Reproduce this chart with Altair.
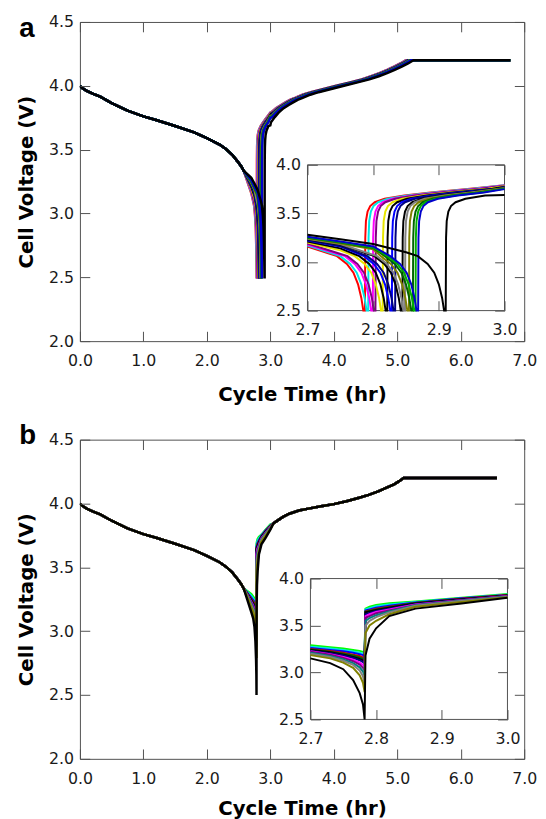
import altair as alt
import pandas as pd

# ---------------- shared discharge path of the main panels (hr, V) ----------------
DIS_T = [0.00, 0.03, 0.10, 0.20, 0.32, 0.50, 0.75, 1.00, 1.20, 1.50, 1.80, 2.00, 2.20, 2.30, 2.40, 2.48, 2.54, 2.58]
DIS_V = [4.000, 3.985, 3.962, 3.938, 3.915, 3.865, 3.805, 3.760, 3.732, 3.685, 3.635, 3.590, 3.540, 3.505, 3.460, 3.410, 3.370, 3.335]
HOLD_V = 4.2

# ---------------- panel a : cycles cut off at 2.5 V ----------------
A_COLORS = ["#ff0000", "#00e5e5", "#ff00ff", "#800080", "#e6e600", "#000000", "#0000ff", "#000080",
            "#000000", "#808080", "#808000", "#006400", "#00b000", "#0000cc", "#000000"]
A_CUTOFF = [2.785, 2.790, 2.797, 2.801, 2.812, 2.819, 2.826, 2.831, 2.842, 2.846, 2.852, 2.858, 2.862, 2.866, 2.908]
A_FAN_T = [2.70, 2.75, 2.80, 2.85]
A_FAN_V = [
    [3.16, None, None, None],
    [3.17, None, None, None],
    [3.18, None, None, None],
    [3.19, None, None, None],
    [3.20, 3.12, None, None],
    [3.21, 3.14, None, None],
    [3.22, 3.16, None, None],
    [3.225, 3.165, None, None],
    [3.235, 3.18, None, None],
    [3.24, 3.185, None, None],
    [3.245, 3.19, 3.13, None],
    [3.25, 3.20, 3.145, None],
    [3.255, 3.205, 3.15, None],
    [3.26, 3.21, 3.16, None],
    [3.28, 3.235, 3.185, 3.10],
]
A_TAIL_DT = [-0.04, -0.025, -0.015, -0.008, -0.003, 0.0]
A_TAIL_V = [3.06, 2.98, 2.89, 2.77, 2.63, 2.50]
A_CHG_DELAY = 0.0025
A_CHG_DT = [0.0, 0.0005, 0.0015, 0.004, 0.008, 0.015, 0.03, 0.06, 0.10, 0.16, 0.22, 0.30, 0.38, 0.45,
            0.52, 0.60, 0.72, 0.85, 1.05, 1.25, 1.45, 1.65, 1.80, 1.93, 2.05, 2.16, 2.26, 2.345]
A_CHG_V = [2.50, 3.25, 3.42, 3.52, 3.575, 3.615, 3.65, 3.685, 3.715, 3.755, 3.79, 3.825, 3.85, 3.87,
           3.89, 3.905, 3.93, 3.95, 3.975, 4.00, 4.025, 4.05, 4.075, 4.10, 4.125, 4.15, 4.175, 4.20]
A_V_AT_3 = [3.79, 3.79, 3.788, 3.785, 3.78, 3.775, 3.77, 3.77, 3.765, 3.76, 3.76, 3.755, 3.755, 3.75, 3.69]
A_HOLD_END = 6.78

# ---------------- panel b : cycles cut off at a fixed time ----------------
B_COLORS = ["#00ff00", "#00e5e5", "#0000ff", "#cc0000", "#006400", "#000000", "#000080",
            "#ff00ff", "#800080", "#008080", "#808080", "#808000", "#000000"]
B_TAIL_T = [2.70, 2.73, 2.75, 2.765, 2.775, 2.78, 2.7825]
B_TAIL_V = [
    [3.29, 3.27, 3.255, 3.24, 3.23, 3.22, 3.21],
    [3.275, 3.255, 3.24, 3.225, 3.21, 3.20, 3.195],
    [3.26, 3.24, 3.225, 3.21, 3.195, 3.185, 3.175],
    [3.25, 3.23, 3.21, 3.19, 3.175, 3.16, 3.15],
    [3.245, 3.22, 3.20, 3.18, 3.16, 3.145, 3.135],
    [3.24, 3.215, 3.19, 3.165, 3.145, 3.13, 3.115],
    [3.23, 3.205, 3.18, 3.155, 3.13, 3.11, 3.095],
    [3.225, 3.195, 3.165, 3.135, 3.105, 3.08, 3.06],
    [3.22, 3.19, 3.155, 3.12, 3.085, 3.05, 3.02],
    [3.21, 3.175, 3.14, 3.10, 3.055, 3.01, 2.96],
    [3.20, 3.165, 3.125, 3.08, 3.02, 2.96, 2.88],
    [3.185, 3.15, 3.105, 3.05, 2.97, 2.89, 2.79],
    [3.15, 3.10, 3.035, 2.92, 2.78, 2.66, 2.50],
]
B_CHG_T = [2.7838, 2.79, 2.80, 2.82, 2.86, 2.93, 3.00]
B_CHG_V = [
    [3.68, 3.70, 3.72, 3.738, 3.755, 3.795, 3.835],
    [3.67, 3.685, 3.705, 3.725, 3.75, 3.79, 3.83],
    [3.66, 3.67, 3.69, 3.71, 3.745, 3.79, 3.825],
    [3.65, 3.66, 3.68, 3.70, 3.74, 3.785, 3.825],
    [3.645, 3.655, 3.67, 3.695, 3.74, 3.78, 3.82],
    [3.64, 3.65, 3.665, 3.69, 3.735, 3.78, 3.82],
    [3.62, 3.635, 3.655, 3.68, 3.73, 3.775, 3.815],
    [3.60, 3.62, 3.645, 3.67, 3.725, 3.77, 3.815],
    [3.58, 3.60, 3.63, 3.66, 3.72, 3.77, 3.81],
    [3.55, 3.58, 3.61, 3.65, 3.715, 3.765, 3.81],
    [3.50, 3.55, 3.59, 3.64, 3.71, 3.76, 3.805],
    [3.42, 3.50, 3.55, 3.62, 3.70, 3.75, 3.80],
    [3.18, 3.36, 3.47, 3.60, 3.68, 3.735, 3.795],
]
B_MAIN_T = [3.05, 3.10, 3.20, 3.30, 3.45, 3.60, 3.80, 4.00, 4.20, 4.40, 4.55, 4.70, 4.85, 4.95, 5.03, 5.10, 6.57]
B_MAIN_V = [3.845, 3.862, 3.895, 3.92, 3.945, 3.96, 3.978, 3.995, 4.018, 4.045, 4.068, 4.095, 4.128,
            4.15, 4.175, 4.20, 4.20]

# ---------------- axes ----------------
X_TICKS = [0.0, 1.0, 2.0, 3.0, 4.0, 5.0, 6.0, 7.0]
Y_TICKS = [2.0, 2.5, 3.0, 3.5, 4.0, 4.5]
IX_TICKS = [2.7, 2.8, 2.9, 3.0]
IY_TICKS = [2.5, 3.0, 3.5, 4.0]

FONT = "DejaVu Sans"
LETTER_FONT = "Liberation Sans"
AXC = "#505050"
LBL = "#1a1a1a"
W, H = 451, 324
TICK = 10


def rows_a():
    out = []
    for i, col in enumerate(A_COLORS):
        te = A_CUTOFF[i]
        pts = list(zip(DIS_T, DIS_V))
        pts += [(t, v) for t, v in zip(A_FAN_T, A_FAN_V[i]) if v is not None]
        pts += [(te + dt, v) for dt, v in zip(A_TAIL_DT, A_TAIL_V)]
        ts = te + A_CHG_DELAY
        chg = [(ts + dt, v) for dt, v in zip(A_CHG_DT, A_CHG_V)]
        chg = [p for p in chg if abs(p[0] - 3.0) > 0.004] + [(3.0, A_V_AT_3[i])]
        chg.sort()
        pts += chg + [(A_HOLD_END, HOLD_V)]
        for k, (t, v) in enumerate(pts):
            out.append({"id": f"a{i}", "col": col, "t": round(t, 5), "v": v, "k": k})
    return pd.DataFrame(out)


def rows_b():
    out = []
    for i, col in enumerate(B_COLORS):
        pts = list(zip(DIS_T, DIS_V))
        pts += list(zip(B_TAIL_T, B_TAIL_V[i]))
        pts += list(zip(B_CHG_T, B_CHG_V[i]))
        pts += list(zip(B_MAIN_T, B_MAIN_V))
        for k, (t, v) in enumerate(pts):
            out.append({"id": f"b{i}", "col": col, "t": t, "v": v, "k": k})
    return pd.DataFrame(out)


def tick_axis(orient, values, offset, **kw):
    return alt.Axis(orient=orient, values=values, offset=offset, tickSize=TICK, tickColor=AXC,
                    tickWidth=1, labels=False, domain=False, grid=False, zindex=1, **kw)


def panel(df, letter, letter_y, xtitle_pad, ix0, ix1, iyt, iyb):
    xs = alt.Scale(domain=[X_TICKS[0], X_TICKS[-1]], nice=False, zero=False)
    ys = alt.Scale(domain=[Y_TICKS[0], Y_TICKS[-1]], nice=False, zero=False)
    main_box = pd.DataFrame({"x0": [X_TICKS[0]], "x1": [X_TICKS[-1]], "y0": [Y_TICKS[0]], "y1": [Y_TICKS[-1]]})

    lines = alt.Chart(df).mark_line(strokeWidth=2.5, clip=True).encode(
        x=alt.X("t:Q", scale=xs, axis=alt.Axis(
            orient="bottom", values=X_TICKS, format=".1f", ticks=False, domain=False, grid=False,
            labelPadding=12, labelFlush=False, labelOverlap=False,
            title="Cycle Time (hr)", titlePadding=xtitle_pad)),
        y=alt.Y("v:Q", scale=ys, axis=alt.Axis(
            orient="left", values=Y_TICKS, format=".1f", ticks=False, domain=False, grid=False,
            labelPadding=6.5, labelFlush=False, labelOverlap=False,
            title="Cell Voltage (V)", titlePadding=12)),
        color=alt.Color("col:N", scale=None),
        detail="id:N",
        order=alt.Order("k:Q"),
    )
    mt1 = alt.Chart(main_box).mark_rect(opacity=0).encode(
        x=alt.X("x0:Q", scale=xs, axis=tick_axis("bottom", X_TICKS, -TICK, title=None)), x2="x1:Q",
        y=alt.Y("y0:Q", scale=ys, axis=tick_axis("left", Y_TICKS, -TICK, title=None)), y2="y1:Q")
    mt2 = alt.Chart(main_box).mark_rect(opacity=0).encode(
        x=alt.X("x0:Q", scale=xs, axis=tick_axis(
            "top", X_TICKS, -TICK, title=letter, titleX=-62, titleY=letter_y - TICK,
            titleAlign="left", titleBaseline="alphabetic", titleAngle=0,
            titleFont=LETTER_FONT, titleFontSize=28, titleFontWeight="bold", titleColor="black")),
        x2="x1:Q",
        y=alt.Y("y0:Q", scale=ys, axis=tick_axis("right", Y_TICKS, -TICK, title=None)), y2="y1:Q")

    ixs = alt.Scale(domain=[IX_TICKS[0], IX_TICKS[-1]], range=[ix0, ix1], nice=False, zero=False)
    iys = alt.Scale(domain=[IY_TICKS[0], IY_TICKS[-1]], range=[iyb, iyt], nice=False, zero=False)
    ibox = pd.DataFrame({"x0": [IX_TICKS[0]], "x1": [IX_TICKS[-1]], "y0": [IY_TICKS[0]], "y1": [IY_TICKS[-1]]})

    frame = alt.Chart(ibox).mark_rect(fill="white", stroke=AXC, strokeWidth=1).encode(
        x=alt.X("x0:Q", scale=ixs, axis=alt.Axis(
            orient="bottom", values=IX_TICKS, format=".1f", offset=iyb - H, ticks=False,
            domain=False, grid=False, labelPadding=11.5, labelFlush=False, labelOverlap=False,
            title=None, zindex=1)),
        x2="x1:Q",
        y=alt.Y("y0:Q", scale=iys, axis=alt.Axis(
            orient="left", values=IY_TICKS, format=".1f", offset=-ix0, ticks=False,
            domain=False, grid=False, labelPadding=7, labelFlush=False, labelOverlap=False,
            title=None, zindex=1)),
        y2="y1:Q")
    ilines = alt.Chart(df).transform_filter(
        "datum.t >= 2.7 && datum.t <= 3.0").mark_line(strokeWidth=2).encode(
        x=alt.X("t:Q", scale=ixs, axis=None),
        y=alt.Y("v:Q", scale=iys, axis=None),
        color=alt.Color("col:N", scale=None),
        detail="id:N",
        order=alt.Order("k:Q"),
    )
    it1 = alt.Chart(ibox).mark_rect(opacity=0).encode(
        x=alt.X("x0:Q", scale=ixs, axis=tick_axis("bottom", IX_TICKS, iyb - TICK - H, title=None)), x2="x1:Q",
        y=alt.Y("y0:Q", scale=iys, axis=tick_axis("left", IY_TICKS, -(ix0 + TICK), title=None)), y2="y1:Q")
    it2 = alt.Chart(ibox).mark_rect(opacity=0).encode(
        x=alt.X("x0:Q", scale=ixs, axis=tick_axis("top", IX_TICKS, -(iyt + TICK), title=None)), x2="x1:Q",
        y=alt.Y("y0:Q", scale=iys, axis=tick_axis("right", IY_TICKS, ix1 - TICK - W, title=None)), y2="y1:Q")

    return alt.layer(lines, mt1, mt2, frame, ilines, it1, it2).resolve_scale(
        x="independent", y="independent").resolve_axis(
        x="independent", y="independent").properties(width=W, height=H)


pa = panel(rows_a(), "a", 14.5, 16, 231, 431, 145, 293)
pb = panel(rows_b(), "b", 3.4, 13, 234, 434, 141, 284)

chart = alt.vconcat(pa, pb, spacing=15).configure_view(stroke=AXC, strokeWidth=1).configure_axis(
    labelFont=FONT, labelFontSize=16, labelColor=LBL, titleFont=FONT, titleFontSize=20,
    titleFontWeight="bold", titleColor="black").properties(
    padding={"left": 8, "top": -1, "right": 0, "bottom": 0})

chart.save("out.html", embed_options={"renderer": "svg", "actions": False})
